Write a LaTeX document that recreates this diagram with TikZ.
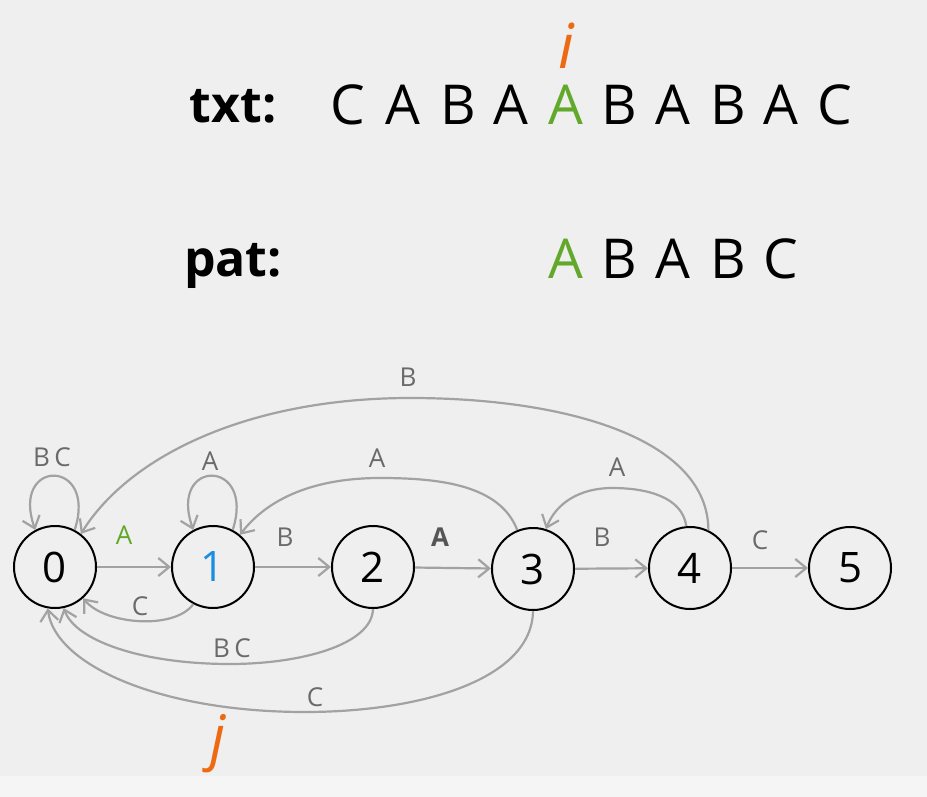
\documentclass[tikz,border=0pt]{standalone}
\usepackage{fontspec}
\setmainfont{Open Sans}
\usetikzlibrary{arrows.meta}
\definecolor{bgcol}{HTML}{EFEFEF}
\definecolor{bgcol2}{HTML}{F5F5F5}
\definecolor{edgecol}{HTML}{A2A2A2}
\definecolor{labcol}{HTML}{6A6A6A}
\definecolor{grn}{HTML}{62A82A}
\definecolor{org}{HTML}{EE6A12}
\definecolor{blu}{HTML}{1A8FE0}
\tikzset{
  state/.style={circle,draw=black,line width=2pt,fill=bgcol,minimum size=82pt,inner sep=0pt,font=\fontsize{42}{42}\selectfont},
  edge/.style={draw=edgecol,line width=2.2pt,-{Straight Barb[length=11pt,width=18pt,line width=2.2pt]}},
  elab/.style={text=labcol,inner sep=0pt,font=\fontsize{26}{26}\selectfont},
  big/.style={inner sep=0pt,font=\fontsize{55}{55}\selectfont},
  head/.style={inner sep=0pt,font=\fontsize{50}{50}\selectfont\bfseries}
}
\begin{document}
\begin{tikzpicture}[x=1pt,y=1pt]
\fill[bgcol] (0,0) rectangle (927,-797);
\fill[bgcol2] (0,-776) rectangle (927,-797);
\useasboundingbox (0,0) rectangle (927,-797);

% header text
\node[head,anchor=base] (txtlab) at (233,-123) {txt:};
\node[head,anchor=base] (patlab) at (233,-276) {pat:};
\foreach \c/\x [count=\k] in {C/348,A/403,B/458,A/511,A/566,B/619,A/673,B/728,A/781,C/835}{
  \node[big,anchor=base] (t\k) at (\x,-125) {\ifnum\k=5 \textcolor{grn}{\c}\else\c\fi};
}
\foreach \c/\x [count=\k] in {A/566,B/619,A/673,B/728,C/781}{
  \node[big,anchor=base] (p\k) at (\x,-278) {\ifnum\k=1 \textcolor{grn}{\c}\else\c\fi};
}
\node[inner sep=0pt,text=org,font=\fontsize{62}{62}\selectfont\itshape] (ivar) at (566,-46) {i};
\node[inner sep=0pt,text=org,font=\fontsize{60}{60}\selectfont\itshape] (jvar) at (218,-744) {j};

% states
\node[state] (n0) at (55,-567) {0};
\node[state] (n1) at (213,-567) {\textcolor{blu}{1}};
\node[state] (n2) at (373,-567) {2};
\node[state] (n3) at (533,-569) {3};
\node[state] (n4) at (690,-568) {4};
\node[state] (n5) at (850,-568) {5};

% forward edges
\draw[edge] (n0) -- (n1);
\draw[edge] (n1) -- (n2);
\draw[edge] (n2) -- (n3);
\draw[edge] (n3) -- (n4);
\draw[edge] (n4) -- (n5);
\node[elab,text=grn] (l01) at (124,-535) {A};
\node[elab] (l12) at (285,-537) {B};
\node[elab,text=labcol!80!black] (l23) at (440,-537) {\bfseries A};
\node[elab] (l34) at (602,-537) {B};
\node[elab] (l45) at (760,-540) {C};

% self loops
\draw[edge] (n0.62) .. controls (98,-458) and (10,-458) .. (n0.118);
\node[elab] (l00) at (52,-457) {B\,C};
\draw[edge] (n1.62) .. controls (256,-458) and (168,-458) .. (n1.118);
\node[elab] (l11) at (210,-461) {A};

% backward edges above
\draw[edge] (n4.64) .. controls (708,-440) and (570,-398) .. (410,-398)
  .. controls (250,-398) and (130,-455) .. (n0.52);
\node[elab] (l40) at (408,-377) {B};
\draw[edge] (n3.112) .. controls (500,-485) and (440,-478) .. (380,-478)
  .. controls (315,-478) and (268,-498) .. (n1.50);
\node[elab] (l31) at (377,-458) {A};
\draw[edge] (n4.95) .. controls (682,-496) and (645,-488) .. (612,-488)
  .. controls (580,-488) and (556,-503) .. (n3.72);
\node[elab] (l43) at (617,-467) {A};

% backward edges below
\draw[edge] (n1.-118) .. controls (175,-630) and (105,-625) .. (n0.-48);
\node[elab] (l10) at (140,-606) {C};
\draw[edge] (n2.-90) .. controls (372,-645) and (300,-664) .. (230,-664)
  .. controls (140,-664) and (75,-640) .. (n0.-78);
\node[elab] (l20) at (232,-648) {B\,C};
\draw[edge] (n3.-90) .. controls (532,-680) and (420,-712) .. (305,-712)
  .. controls (160,-712) and (55,-665) .. (n0.-100);
\node[elab] (l30) at (315,-697) {C};
\end{tikzpicture}
\end{document}
